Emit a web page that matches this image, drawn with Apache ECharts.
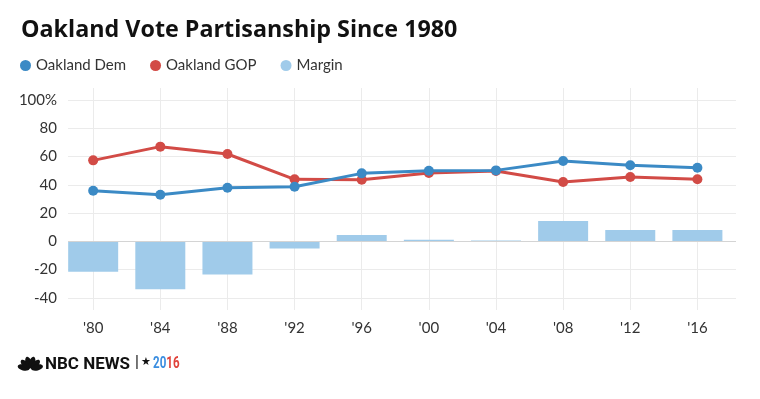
<!DOCTYPE html>
<html>
<head>
<meta charset="utf-8">
<script src="https://cdn.jsdelivr.net/npm/echarts@6/dist/echarts.min.js"></script>
<style>
  html, body { margin: 0; padding: 0; background: #fff; }
  #chart { width: 760px; height: 399px; }
</style>
</head>
<body>
<div id="chart"></div>
<script>
// election years and their short labels
var years = [1980, 1984, 1988, 1992, 1996, 2000, 2004, 2008, 2012, 2016];
var yearLabels = ["'80", "'84", "'88", "'92", "'96", "'00", "'04", "'08", "'12", "'16"];
// vote share, %
var demValues = [35.8, 33, 37.9, 38.6, 48.1, 50, 50.2, 56.8, 53.8, 52.1];
var gopValues = [57.3, 67, 61.8, 43.9, 43.6, 48.3, 49.8, 42, 45.5, 43.9];
var marginValues = [-21.5, -34, -23.4, -5, 4.5, 1.2, 0.5, 14.4, 8, 8];
var yTicks = [-40, -20, 0, 20, 40, 60, 80, 100];

var font = "Lato, 'Open Sans', sans-serif";

function pairs(vals) {
  return years.map(function (y, i) { return [y, vals[i]]; });
}

var chart = echarts.init(document.getElementById("chart"));
chart.setOption({
  animation: false,
  title: {
    text: "Oakland Vote Partisanship Since 1980",
    left: 16,
    top: 14,
    textStyle: { fontFamily: "'Open Sans', sans-serif", fontSize: 23.3, fontWeight: "bold", color: "#111" }
  },
  legend: {
    left: 15,
    top: 53,
    icon: "circle",
    itemWidth: 11,
    itemHeight: 11,
    itemGap: 24,
    textStyle: { fontFamily: font, fontSize: 15, color: "#333" },
    data: ["Oakland Dem", "Oakland GOP", "Margin"]
  },
  grid: { left: 68, right: 24, top: 88, bottom: 89 },
  xAxis: {
    type: "value",
    min: 1978.5,
    max: 2018.3,
    axisLine: { show: false },
    axisTick: { show: false, customValues: years },
    axisLabel: {
      customValues: years,
      margin: 11,
      fontFamily: font,
      fontSize: 15,
      color: "#333",
      formatter: function (v) { return yearLabels[years.indexOf(v)]; }
    },
    splitLine: { show: true, lineStyle: { color: "#ebebeb" } }
  },
  yAxis: {
    type: "value",
    min: -48.6,
    max: 108.5,
    axisLine: { show: false },
    axisTick: { show: false, customValues: yTicks },
    axisLabel: {
      customValues: yTicks,
      margin: 11,
      fontFamily: font,
      fontSize: 15,
      color: "#333",
      formatter: function (v) { return v === 100 ? "100%" : String(v); }
    },
    splitLine: { show: true, lineStyle: { color: "#ebebeb" } }
  },
  series: [
    {
      name: "Margin",
      type: "bar",
      barWidth: 50,
      itemStyle: { color: "#a0cbea" },
      data: pairs(marginValues),
      markLine: {
        silent: true,
        symbol: "none",
        label: { show: false },
        lineStyle: { color: "#d4d4d4", type: "solid", width: 1 },
        data: [{ yAxis: 0 }]
      }
    },
    {
      name: "Oakland GOP",
      type: "line",
      symbol: "circle",
      symbolSize: 10,
      lineStyle: { width: 3, color: "#d24b46" },
      itemStyle: { color: "#d24b46" },
      data: pairs(gopValues)
    },
    {
      name: "Oakland Dem",
      type: "line",
      symbol: "circle",
      symbolSize: 10,
      lineStyle: { width: 3, color: "#3b8ac5" },
      itemStyle: { color: "#3b8ac5" },
      data: pairs(demValues)
    }
  ],
  graphic: [
    // peacock logo
    {
      type: "group",
      left: 17,
      top: 356,
      children: [0, 1, 2, 3, 4, 5].map(function (i) {
        var a = Math.PI * (i + 0.5) / 6;
        return {
          type: "ellipse",
          shape: { cx: 13 - Math.cos(a) * 7, cy: 13 - Math.sin(a) * 7, rx: 3, ry: 6 },
          rotation: Math.PI / 2 - a,
          originX: 13 - Math.cos(a) * 7,
          originY: 13 - Math.sin(a) * 7,
          style: { fill: "#111" }
        };
      })
    },
    {
      type: "text",
      left: 45,
      top: 356,
      style: {
        text: "NBC NEWS",
        font: "bold 17px Roboto, sans-serif",
        fill: "#111"
      }
    },
    {
      type: "text",
      left: 135,
      top: 355,
      style: { text: "|", font: "16px Roboto, sans-serif", fill: "#111" }
    },
    {
      type: "text",
      left: 141,
      top: 357,
      style: { text: "★", font: "11px 'DejaVu Sans', sans-serif", fill: "#111" }
    },
    {
      type: "text",
      x: 153,
      y: 355,
      scaleX: 0.68,
      style: {
        text: "{b|20}{r|16}",
        rich: {
          b: { fill: "#3b8ee0", font: "bold 17px Roboto, sans-serif" },
          r: { fill: "#e0433b", font: "bold 17px Roboto, sans-serif" }
        }
      }
    }
  ]
});
</script>
</body>
</html>
